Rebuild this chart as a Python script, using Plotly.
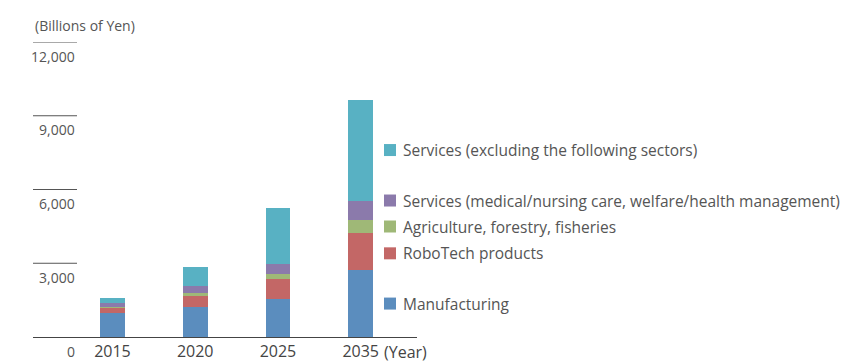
import plotly.graph_objects as go

years = ["2015", "2020", "2025", "2035"]
series_names = [
    "Manufacturing",
    "RoboTech products",
    "Agriculture, forestry, fisheries",
    "Services (medical/nursing care, welfare/health management)",
    "Services (excluding the following sectors)",
]
manufacturing = [970, 1210, 1530, 2720]
robotech = [210, 490, 810, 1530]
agriculture = [40, 80, 240, 490]
medical = [160, 300, 370, 810]
services = [200, 770, 2280, 4110]
y_ticks = [0, 3000, 6000, 9000, 12000]
y_tick_labels = ["0", "3,000", "6,000", "9,000", "12,000"]

colors = ["#5b8dbe", "#c36766", "#9fb877", "#8b7aab", "#58b1c3"]
values = [manufacturing, robotech, agriculture, medical, services]

FONT = "Open Sans"
PX_PER_UNIT = 295 / 12000  # plot height / y range
fig = go.Figure()
for name, vals, col in zip(series_names, values, colors):
    fig.add_trace(go.Bar(x=years, y=vals, name=name, marker=dict(color=col, line=dict(width=0)),
                         showlegend=False))

fig.update_layout(
    barmode="stack",
    bargap=0.7,
    width=842, height=362,
    margin=dict(l=33, r=425, t=42, b=25, pad=0),
    plot_bgcolor="white", paper_bgcolor="white",
    font=dict(family=FONT, color="#555555"),
    xaxis=dict(type="category", range=[-0.96, 3.68], showline=True, linecolor="#444444", linewidth=1,
               showgrid=False, ticks="", automargin=False,
               tickfont=dict(size=16, color="#444444")),
    yaxis=dict(range=[0, 12000], showgrid=False, showticklabels=False, zeroline=False, showline=False,
               automargin=False),
)

# short tick lines and labels
for v, lab in zip(y_ticks, y_tick_labels):
    if v > 0:
        fig.add_shape(type="line", xref="paper", yref="y", x0=0, x1=44 / 384, y0=v, y1=v,
                      line=dict(color="#555555", width=1))
    fig.add_annotation(xref="paper", yref="y", x=44 / 384, y=v, text=lab, showarrow=False,
                       xanchor="right", yanchor="middle", yshift=-14,
                       font=dict(size=14, color="#555555"))

fig.add_annotation(xref="paper", yref="paper", x=0, y=1, text="(Billions of Yen)", showarrow=False,
                   xanchor="left", yanchor="middle", yshift=17, font=dict(size=14, color="#555555"))

fig.add_annotation(xref="x", yref="paper", x=3, y=0, text="(Year)", showarrow=False,
                   xanchor="left", yanchor="top", xshift=22, yshift=-3, borderpad=0,
                   font=dict(size=16, color="#444444"))

# legend positioned beside the 2035 segments
shifts = [0, -2, 0, 10, 0]
half = 6 / PX_PER_UNIT
base = 0
for i, (name, vals, col) in enumerate(zip(series_names, values, colors)):
    centre = base + vals[3] / 2 + shifts[i] / PX_PER_UNIT
    base += vals[3]
    fig.add_shape(type="rect", xref="paper", yref="y", x0=(384 - 33) / 384, x1=(396 - 33) / 384,
                  y0=centre - half, y1=centre + half, fillcolor=col, line=dict(width=0))
    fig.add_annotation(xref="paper", yref="y", x=(401 - 33) / 384, y=centre, text=name,
                       showarrow=False, xanchor="left", yanchor="middle",
                       font=dict(size=15.5, color="#555555"))

fig.write_html("out.html")
